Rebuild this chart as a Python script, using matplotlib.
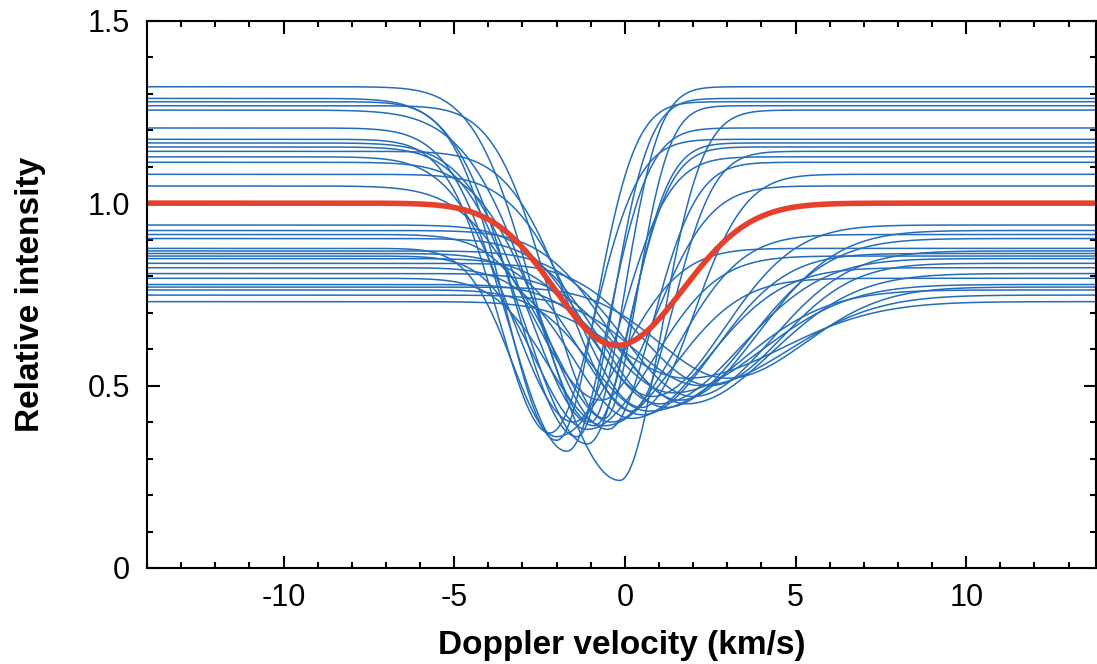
import numpy as np
import matplotlib
matplotlib.use("Agg")
import matplotlib.pyplot as plt
from matplotlib.ticker import MultipleLocator

plt.rcParams["font.family"] = ["Liberation Sans", "DejaVu Sans"]

# line profiles: continuum level, line centre (km/s),
# minimum intensity, blue-side and red-side widths (km/s)
continuum = [1.319, 1.287, 1.278, 1.267, 1.255, 1.206, 1.175, 1.165, 1.154, 1.142,
             1.127, 1.112, 1.079, 1.047,
             0.940, 0.925, 0.914, 0.903, 0.876, 0.869, 0.862, 0.855, 0.848,
             0.835, 0.823, 0.807, 0.794, 0.777, 0.770, 0.762, 0.748, 0.730]
centre = [-1.0, -1.4, -2.0, -0.6, -0.15, -1.7, -2.2, -0.9, -1.1, 0.2,
          -1.5, -0.5, 0.5, -0.7,
          0.8, 1.6, -0.4, 1.2, -2.0, 2.0, 0.5, -1.1, 1.0,
          2.5, 0.2, 1.8, -0.6, 1.4, 3.0, 0.7, 2.2, 1.8]
minimum = [0.40, 0.36, 0.35, 0.41, 0.24, 0.32, 0.37, 0.39, 0.34, 0.43,
           0.40, 0.38, 0.44, 0.46,
           0.47, 0.46, 0.40, 0.44, 0.36, 0.47, 0.42, 0.38, 0.45,
           0.50, 0.41, 0.45, 0.39, 0.48, 0.52, 0.43, 0.50, 0.52]
width_blue = [1.7, 1.8, 1.5, 1.6, 2.2, 1.7, 1.5, 1.9, 1.8, 1.8,
              1.8, 1.9, 1.9, 2.0,
              1.9, 2.0, 1.7, 1.9, 1.3, 2.0, 1.8, 1.5, 1.8,
              2.0, 1.7, 1.9, 1.6, 1.8, 2.0, 1.7, 1.9, 2.0]
width_red = [1.0, 1.05, 1.15, 0.95, 1.2, 1.2, 1.3, 1.1, 1.2, 1.2,
             1.4, 1.3, 1.5, 1.6,
             2.1, 2.3, 1.9, 2.4, 1.8, 2.3, 2.1, 1.9, 2.4,
             2.1, 2.2, 2.5, 2.0, 2.6, 2.3, 2.6, 2.6, 2.8]

# average profile
mean_continuum = 1.0
mean_centre = -0.25
mean_minimum = 0.61
mean_width_blue = 1.8
mean_width_red = 1.95

velocity = np.linspace(-14, 14, 1401)


def profile(cont, v0, imin, wb, wr):
    w = np.where(velocity < v0, wb, wr)
    return cont - (cont - imin) * np.exp(-0.5 * ((velocity - v0) / w) ** 2)


fig = plt.figure(figsize=(10.97, 6.64), dpi=100)
ax = fig.add_axes([0.134, 0.1446, 0.865, 0.8242])

for c, v0, m, wb, wr in zip(continuum, centre, minimum, width_blue, width_red):
    ax.plot(velocity, profile(c, v0, m, wb, wr), color="#236dba", lw=1.1)

ax.plot(velocity, profile(mean_continuum, mean_centre, mean_minimum,
                          mean_width_blue, mean_width_red),
        color="#e5402b", lw=4.0, solid_capstyle="butt")

ax.set_xlim(-14, 13.8)
ax.set_ylim(0, 1.5)
ax.set_xticks([-10, -5, 0, 5, 10])
ax.set_xticklabels(["-10", "-5", "0", "5", "10"])
ax.set_yticks([0, 0.5, 1.0, 1.5])
ax.set_yticklabels(["0", "0.5", "1.0", "1.5"])
ax.xaxis.set_minor_locator(MultipleLocator(1))
ax.yaxis.set_minor_locator(MultipleLocator(0.1))
ax.tick_params(which="both", direction="in", top=True, right=True,
               labelsize=22, width=1.5)
ax.tick_params(axis="x", pad=11)
ax.tick_params(axis="y", pad=12)
ax.tick_params(which="major", length=9)
ax.tick_params(which="minor", length=4.5)
for s in ax.spines.values():
    s.set_linewidth(1.5)

ax.set_xlabel("Doppler velocity (km/s)", fontsize=24, fontweight="bold", labelpad=12)
ax.set_ylabel("Relative intensity", fontsize=24, fontweight="bold", labelpad=30)

fig.savefig("out.png", dpi=100)
